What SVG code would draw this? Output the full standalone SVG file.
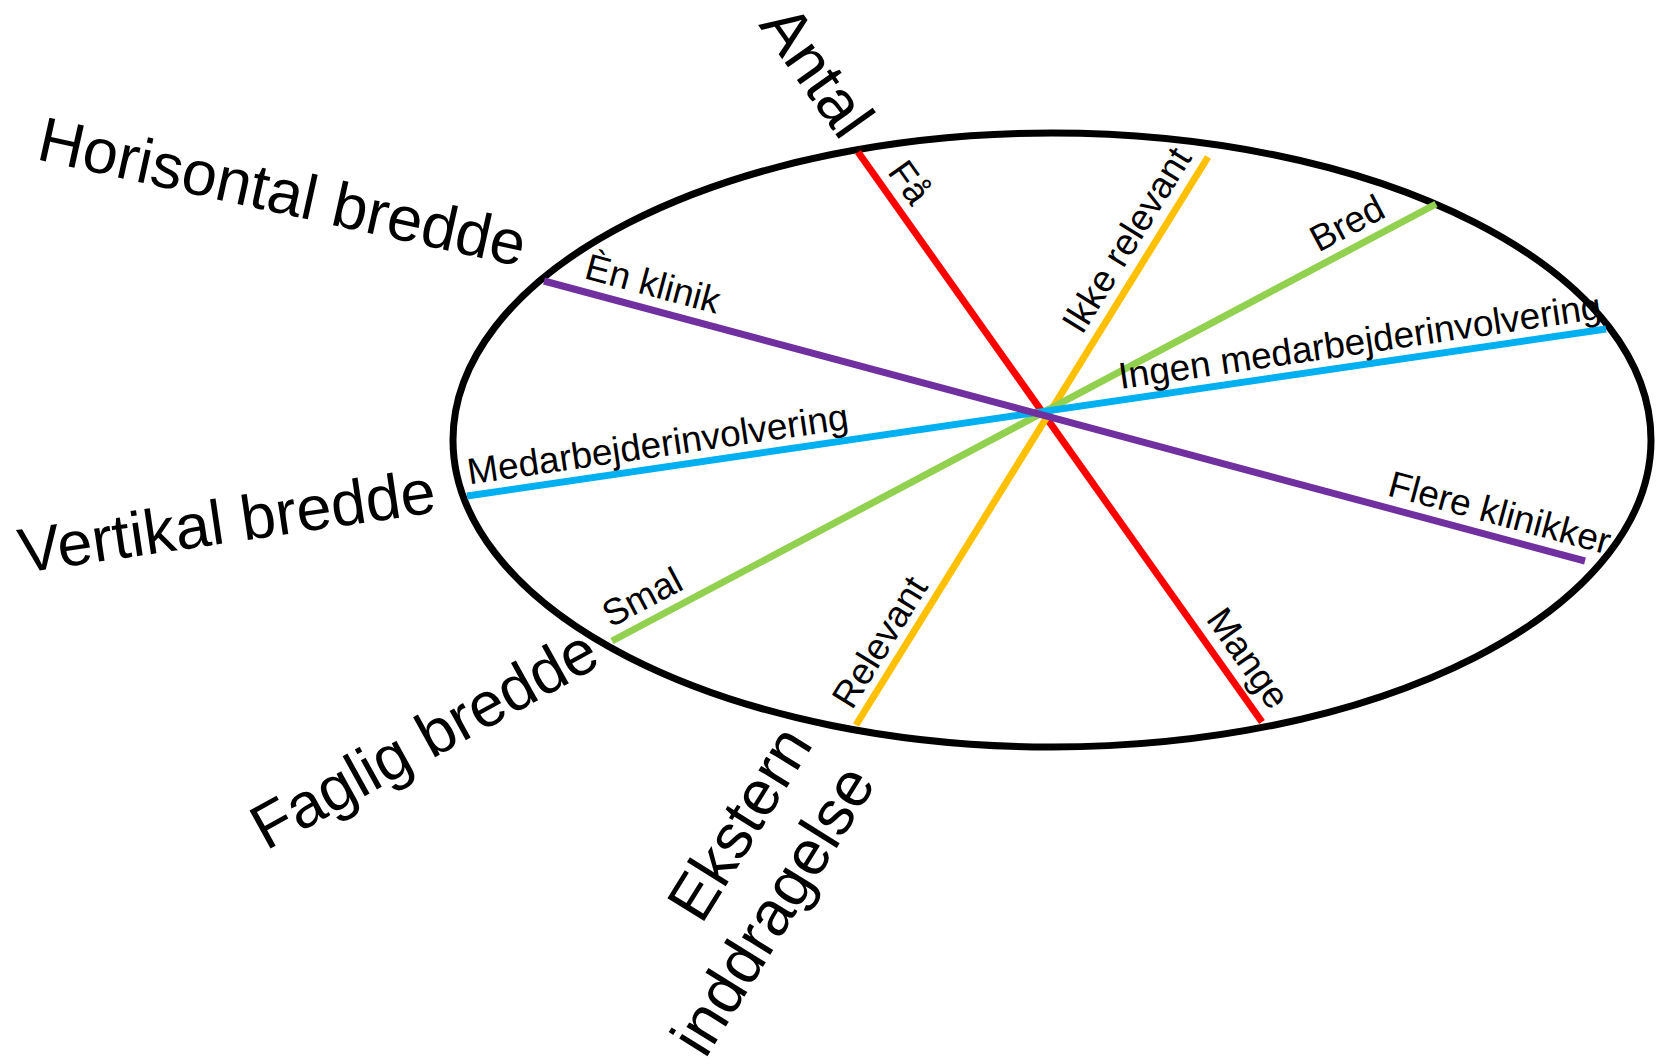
<svg xmlns="http://www.w3.org/2000/svg" width="1665" height="1064" viewBox="0 0 1665 1064">
<style>
text { font-family: "Liberation Sans", Arial, sans-serif; fill: #000; }
.s { font-size: 37px; }
.b { font-size: 63px; }
.ln { stroke-width: 7; fill: none; stroke-linecap: butt; }
</style>
<rect width="1665" height="1064" fill="#fff"/>
<g id="ellipse">
<ellipse cx="1052" cy="440" rx="599" ry="307" fill="none" stroke="#000" stroke-width="7"/>
</g>
<g id="connectors">
<line class="ln" x1="858" y1="152" x2="1262" y2="722" stroke="#FF0000"/>
<line class="ln" x1="1208" y1="157" x2="856" y2="725" stroke="#FFC000"/>
<line class="ln" x1="1436" y1="204" x2="612" y2="641" stroke="#92D050"/>
<line class="ln" x1="1606" y1="329" x2="467" y2="496" stroke="#00B0F0"/>
<line class="ln" x1="544" y1="281" x2="1585" y2="561" stroke="#7030A0"/>
</g>
<g id="antal-labels" transform="translate(858,152) rotate(54.67)">
<text class="s" x="33" y="-12">Få</text>
<text class="s" x="582" y="-13">Mange</text>
</g>
<g id="ekstern-labels" transform="translate(856,725) rotate(-58.2)">
<text class="s" x="10" y="-11">Relevant</text>
<text class="s" x="450" y="-13">Ikke relevant</text>
</g>
<g id="faglig-labels" transform="translate(612,641) rotate(-27.94)">
<text class="s" x="5" y="-12">Smal</text>
<text class="s" x="806" y="-12">Bred</text>
</g>
<g id="vertikal-labels" transform="translate(467,496) rotate(-8.34)">
<text class="s" x="4" y="-11">Medarbejderinvolvering</text>
<text class="s" x="662" y="-11">Ingen medarbejderinvolvering</text>
</g>
<g id="horisontal-labels" transform="translate(544,281) rotate(15.06)">
<text class="s" x="37" y="-13">Èn klinik</text>
<text class="s" x="869" y="-12">Flere klinikker</text>
</g>
<g id="antal"><text class="b" transform="translate(758,25) rotate(54.67)">Antal</text></g>
<g id="horisontal"><text class="b" transform="translate(35,159) rotate(12.5)">Horisontal bredde</text></g>
<g id="vertikal"><text class="b" transform="translate(22,573) rotate(-8.34)">Vertikal bredde</text></g>
<g id="faglig"><text class="b" transform="translate(266,851) rotate(-29)">Faglig bredde</text></g>
<g id="ekstern"><text class="b" text-anchor="end" transform="translate(814,744) rotate(-58.2)"><tspan x="0" y="0">Ekstern</tspan><tspan x="0" y="74">inddragelse</tspan></text></g>
</svg>
